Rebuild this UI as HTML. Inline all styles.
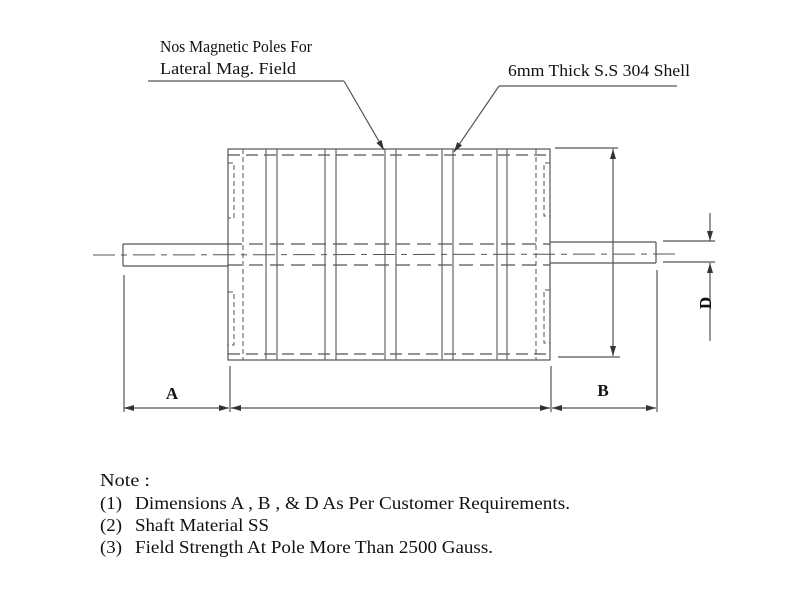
<!DOCTYPE html>
<html><head><style>body{margin:0;background:#fff}svg{display:block}</style></head>
<body>
<svg width="800" height="600" viewBox="0 0 800 600" xmlns="http://www.w3.org/2000/svg" font-family="Liberation Serif, serif" fill="none" stroke="#555" stroke-width="1.2">
<defs>
<marker id="ar" markerWidth="10" markerHeight="6" refX="10" refY="3" orient="auto" markerUnits="userSpaceOnUse"><path d="M0,0 L10,3 L0,6 z" fill="#333" stroke="none"/></marker>
</defs>
<rect x="228" y="149" width="322" height="211"/>
<line x1="228" y1="155" x2="550" y2="155" stroke-dasharray="12,6"/>
<line x1="228" y1="354" x2="550" y2="354" stroke-dasharray="12,6"/>
<line x1="243" y1="149" x2="243" y2="360" stroke-dasharray="5,3" stroke-width="1"/>
<line x1="536" y1="149" x2="536" y2="360" stroke-dasharray="5,3" stroke-width="1"/>
<g stroke="#666">
<line x1="266" y1="149" x2="266" y2="360"/><line x1="277" y1="149" x2="277" y2="360"/>
<line x1="325" y1="149" x2="325" y2="360"/><line x1="336" y1="149" x2="336" y2="360"/>
<line x1="385" y1="149" x2="385" y2="360"/><line x1="396" y1="149" x2="396" y2="360"/>
<line x1="442" y1="149" x2="442" y2="360"/><line x1="453" y1="149" x2="453" y2="360"/>
<line x1="497" y1="149" x2="497" y2="360"/><line x1="507" y1="149" x2="507" y2="360"/>
</g>
<path d="M228,163 H234 V218 H228" stroke-dasharray="5,3" stroke-width="1"/>
<path d="M228,292 H234 V345 H228" stroke-dasharray="5,3" stroke-width="1"/>
<path d="M550,163 H544 V216 H550" stroke-dasharray="5,3" stroke-width="1"/>
<path d="M550,290 H544 V343 H550" stroke-dasharray="5,3" stroke-width="1"/>
<line x1="123" y1="244" x2="228" y2="244"/><line x1="123" y1="266" x2="228" y2="266"/>
<line x1="123" y1="244" x2="123" y2="266"/>
<line x1="550" y1="242" x2="656" y2="242"/><line x1="550" y1="263" x2="656" y2="263"/>
<line x1="656" y1="242" x2="656" y2="263"/>
<line x1="228" y1="244" x2="550" y2="244" stroke-dasharray="14,7"/>
<line x1="228" y1="265" x2="550" y2="265" stroke-dasharray="14,7"/>
<line x1="93" y1="255" x2="680" y2="254" stroke-dasharray="22,6,6,6" stroke-width="1"/>
<line x1="555" y1="148" x2="618" y2="148"/><line x1="558" y1="357" x2="620" y2="357"/>
<line x1="613" y1="170" x2="613" y2="149" marker-end="url(#ar)"/>
<line x1="613" y1="170" x2="613" y2="356" marker-end="url(#ar)"/>
<line x1="663" y1="241" x2="715" y2="241"/><line x1="663" y1="262" x2="715" y2="262"/>
<line x1="710" y1="213" x2="710" y2="241" marker-end="url(#ar)"/>
<line x1="710" y1="341" x2="710" y2="263" marker-end="url(#ar)"/>
<text x="706" y="303" transform="rotate(-90 706 303)" text-anchor="middle" font-size="17" fill="#111" stroke="none" font-weight="bold" dy="5">D</text>
<line x1="124" y1="275" x2="124" y2="412"/><line x1="230" y1="366" x2="230" y2="412"/>
<line x1="551" y1="366" x2="551" y2="412"/><line x1="657" y1="270" x2="657" y2="412"/>
<line x1="170" y1="408" x2="124" y2="408" marker-end="url(#ar)"/>
<line x1="170" y1="408" x2="229" y2="408" marker-end="url(#ar)"/>
<line x1="390" y1="408" x2="231" y2="408" marker-end="url(#ar)"/>
<line x1="390" y1="408" x2="550" y2="408" marker-end="url(#ar)"/>
<line x1="600" y1="408" x2="552" y2="408" marker-end="url(#ar)"/>
<line x1="600" y1="408" x2="656" y2="408" marker-end="url(#ar)"/>
<text x="172" y="399" text-anchor="middle" font-size="17" fill="#111" stroke="none" font-weight="bold">A</text>
<text x="603" y="396" text-anchor="middle" font-size="17" fill="#111" stroke="none" font-weight="bold">B</text>
<line x1="148" y1="81" x2="344" y2="81"/>
<line x1="344" y1="81" x2="384" y2="150" marker-end="url(#ar)"/>
<line x1="677" y1="86" x2="499" y2="86"/>
<line x1="499" y1="86" x2="454" y2="152" marker-end="url(#ar)"/>
<g fill="#111" stroke="none" font-size="17">
<text x="160" y="52" textLength="152" lengthAdjust="spacingAndGlyphs">Nos Magnetic Poles For</text>
<text x="160" y="74" textLength="136" lengthAdjust="spacingAndGlyphs">Lateral Mag. Field</text>
<text x="508" y="76" textLength="182" lengthAdjust="spacingAndGlyphs">6mm Thick S.S 304 Shell</text>
<g font-size="18">
<text x="100" y="486" textLength="50" lengthAdjust="spacingAndGlyphs">Note :</text>
<text x="100" y="509" textLength="22" lengthAdjust="spacingAndGlyphs">(1)</text><text x="135" y="509" textLength="435" lengthAdjust="spacingAndGlyphs">Dimensions A , B , &amp; D As Per Customer Requirements.</text>
<text x="100" y="531" textLength="22" lengthAdjust="spacingAndGlyphs">(2)</text><text x="135" y="531" textLength="134" lengthAdjust="spacingAndGlyphs">Shaft Material SS</text>
<text x="100" y="553" textLength="22" lengthAdjust="spacingAndGlyphs">(3)</text><text x="135" y="553" textLength="358" lengthAdjust="spacingAndGlyphs">Field Strength At Pole More Than 2500 Gauss.</text>
</g>
</g>
</svg>
</body></html>
